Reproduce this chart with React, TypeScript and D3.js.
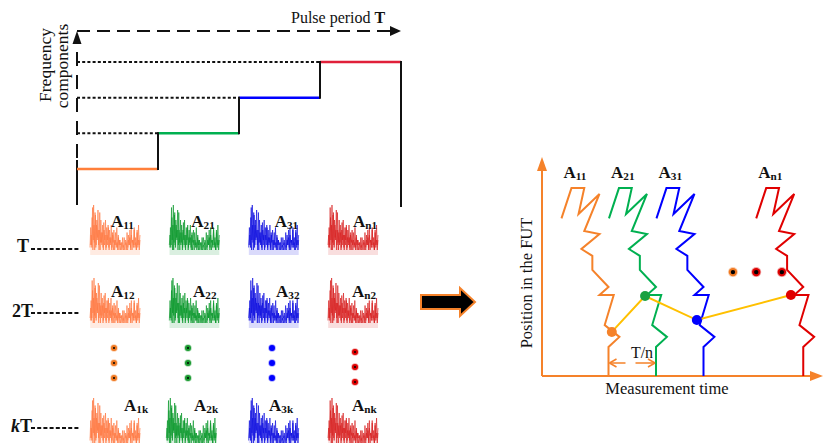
import React from "react";
import * as d3 from "d3";

// ---------- DATA ----------
// Top-left staircase: frequency component per time slot within one pulse period
const stepSlots = [0, 1, 2, 3]; // slot index (start)
const stepLevels = [0, 1, 2, 3]; // frequency level
const stepColors = ["#FF7F3A", "#00B050", "#0000FF", "#E0203A"];

// Spectra grid
const columns = ["1", "2", "3", "n"];
const columnColors = ["#FF7A45", "#0E9A2E", "#1010E0", "#D82424"];
const dotColors = ["#F07820", "#1A9A30", "#0000FF", "#DD0000"];
const rows = ["1", "2", "k"];

const specA = [0.15,0.55,0.2,0.75,0.1,1.0,0.25,0.85,0.15,0.6,0.3,0.9,0.2,0.5,0.1,0.7,0.25,0.45,0.15,0.65,0.2,0.4,0.1,0.55,0.3,0.6,0.15,0.5,0.2,0.35,0.1,0.45,0.25,0.5,0.1,0.3,0.2,0.55,0.15,0.4,0.1,0.3,0.2,0.25,0.1,0.35,0.15,0.2,0.1,0.3,0.25,0.15,0.1,0.4,0.2,0.35,0.15,0.55,0.1,0.3,0.2,0.5,0.15,0.25,0.1,0.45,0.2,0.6,0.1,0.3];
const specB = [0.2,0.4,0.15,0.95,0.3,0.6,0.1,0.8,0.2,0.7,0.35,0.5,0.1,0.85,0.25,0.45,0.2,0.6,0.1,0.5,0.3,0.7,0.15,0.4,0.2,0.55,0.1,0.35,0.25,0.6,0.15,0.4,0.1,0.3,0.2,0.45,0.15,0.25,0.1,0.35,0.2,0.3,0.1,0.2,0.25,0.15,0.1,0.35,0.2,0.25,0.1,0.45,0.15,0.3,0.2,0.5,0.1,0.4,0.25,0.3,0.15,0.55,0.2,0.35,0.1,0.5,0.15,0.3,0.2,0.4];

// Right plot: launch times (in units of T/n) and trace shape [dt, position]
const launchTimes = [1.4, 2.4, 3.4, 5.5];
const traceShape: [number, number][] = [
  [-0.99, 73], [-0.78, 87], [-0.51, 87], [-0.63, 75], [-0.19, 84.3],
  [-0.51, 67.1], [-0.19, 65.7], [-0.57, 58.8], [-0.34, 55.6], [-0.34, 49.1],
  [0, 41.2], [-0.19, 37.5], [0.11, 37.5], [-0.08, 23.6], [0.23, 18.1],
  [0, 13.4], [0, 0],
];
const traceColors = ["#F5822A", "#00B050", "#0000FF", "#E00000"];
const sampleTimes = [1.47, 2.17, 3.26, 5.24];
const samplePositions = [20.4, 37.0, 25.9, 37.5];
const ellipsisTimes = [4.02, 4.51, 5.05];
const ellipsisColors = ["#F07820", "#DD0000", "#DD0000"];
const ellipsisPosition = 48.1;

const SERIF = "'Liberation Serif', 'Times New Roman', serif";

function Label({ x, y, sub, size = 17 }: { x: number; y: number; sub: string; size?: number }) {
  return (
    <text x={x} y={y} fontFamily={SERIF} fontWeight="bold" fontSize={size} fill="#111">
      A
      <tspan fontSize={size * 0.66} dy={1.5}>{sub}</tspan>
    </text>
  );
}

export default function App() {
  const xSlot = d3.scaleLinear().domain([0, 4]).range([77, 401]);
  const yLevel = d3.scaleLinear().domain([0, 3]).range([169, 62]);

  const colX = d3.scalePoint<string>().domain(columns).range([90, 328]);
  const rowTop = d3.scaleOrdinal<string, number>().domain(rows).range([205, 278, 398]);
  const rowH = 50;
  const specW = 50;

  const xR = d3.scaleLinear().domain([0, 5.9]).range([542, 822.25]);
  const yR = d3.scaleLinear().domain([0, 100]).range([376, 160]);
  const line = d3.line<[number, number]>();

  const orange = "#F5822A";

  const spectrumPaths = (ci: number, ri: number) => {
    const left = colX(columns[ci])! + (ri === 2 && ci === 1 ? -3 : 0);
    const top = rowTop(rows[ri]);
    const arrs = (ci + ri) % 2 === 0 ? [specA, specB] : [specB, specA];
    return arrs.map((arr, k) => {
      const sx = d3.scaleLinear().domain([0, arr.length - 1]).range([left + k * 0.4, left + specW]);
      const sy = d3.scaleLinear().domain([0, 1]).range([top + rowH, top]);
      const area = d3.area<number>().x((_, i) => sx(i)).y0(top + rowH).y1((d) => sy(d));
      const ln = d3.line<number>().x((_, i) => sx(i)).y((d) => sy(d));
      return (
        <g key={k}>
          <path d={area(arr)!} fill={columnColors[ci]} opacity={0.08} />
          <path d={ln(arr)!} fill="none" stroke={columnColors[ci]} strokeWidth={0.9} opacity={0.75} />
        </g>
      );
    });
  };

  const row1Offsets = [21, 22, 26, 25];

  return (
    <svg width={823} height={443} style={{ position: "absolute", left: 0, top: 0, background: "#fff" }}>
      {/* ===== Top-left: pulse period ===== */}
      <text x={291} y={23} fontFamily={SERIF} fontSize={16} fill="#111">
        Pulse period <tspan fontWeight="bold">T</tspan>
      </text>
      <line x1={77} y1={31} x2={392} y2={31} stroke="#111" strokeWidth={2} strokeDasharray="13,7" />
      <path d="M390,26 L401,31 L390,36 Z" fill="#111" />
      <path d="M72.5,44 L77,31 L81.5,44 Z" fill="#111" />
      <line x1={77} y1={52} x2={77} y2={160} stroke="#111" strokeWidth={2} strokeDasharray="14,9" />
      <line x1={77} y1={160} x2={77} y2={205} stroke="#111" strokeWidth={2} />
      <text transform="translate(51,65) rotate(-90)" textAnchor="middle" fontFamily={SERIF} fontSize={17.5} fill="#111">Frequency</text>
      <text transform="translate(68,66) rotate(-90)" textAnchor="middle" fontFamily={SERIF} fontSize={17.5} fill="#111">components</text>

      {stepLevels.slice(1).map((lv, i) => (
        <line key={"dg" + i} x1={77} y1={yLevel(lv)} x2={xSlot(stepSlots[i + 1])} y2={yLevel(lv)}
          stroke="#111" strokeWidth={2} strokeDasharray="3,2.2" />
      ))}
      {stepSlots.map((s, i) => (
        <line key={"st" + i} x1={xSlot(s)} y1={yLevel(stepLevels[i])} x2={xSlot(s + 1)} y2={yLevel(stepLevels[i])}
          stroke={stepColors[i]} strokeWidth={2.5} />
      ))}
      {stepSlots.slice(1).map((s, i) => (
        <line key={"rs" + i} x1={xSlot(s)} y1={yLevel(stepLevels[i]) + 1} x2={xSlot(s)} y2={yLevel(stepLevels[i + 1]) - 1}
          stroke="#111" strokeWidth={2} />
      ))}
      <line x1={xSlot(4)} y1={yLevel(3) - 1} x2={xSlot(4)} y2={207} stroke="#111" strokeWidth={2} />

      {/* ===== Spectra grid ===== */}
      {rows.map((r, ri) => (
        <g key={"row" + r}>
          {columns.map((c, ci) => (
            <g key={"sp" + c}>{spectrumPaths(ci, ri)}</g>
          ))}
        </g>
      ))}
      <g>
        {columns.map((c, ci) => (
          <Label key={"l1" + c} x={colX(c)! + row1Offsets[ci]} y={227} sub={c + "1"} />
        ))}
        {columns.map((c, ci) => (
          <Label key={"l2" + c} x={[111, 193, 276, 352][ci]} y={297} sub={c + "2"} />
        ))}
        {columns.map((c, ci) => (
          <Label key={"lk" + c} x={[124, 194, 269, 352][ci]} y={411} sub={c + "k"} />
        ))}
      </g>
      <text x={17} y={252} fontFamily={SERIF} fontWeight="bold" fontSize={18} fill="#111">T</text>
      <text x={12} y={317} fontFamily={SERIF} fontWeight="bold" fontSize={18} fill="#111">2T</text>
      <text x={11} y={432} fontFamily={SERIF} fontWeight="bold" fontSize={18} fill="#111">
        <tspan fontStyle="italic">k</tspan>T
      </text>
      {[249, 313, 428].map((y, i) => (
        <line key={"rd" + i} x1={31} y1={y} x2={80} y2={y} stroke="#111" strokeWidth={2} strokeDasharray="4,2.2" />
      ))}
      {columns.map((c, ci) =>
        [0, 1, 2].map((j) => {
          const cx = [114, 188, 272, 355][ci];
          const cy = (ci === 3 ? 352 : 348) + j * 15;
          return (
            <g key={"vd" + c + j}>
              <circle cx={cx} cy={cy} r={3.8} fill={dotColors[ci]} opacity={0.35} />
              <circle cx={cx} cy={cy} r={3} fill={dotColors[ci]} />
              {ci !== 2 && <circle cx={cx} cy={cy} r={1} fill="#000" />}
            </g>
          );
        })
      )}

      {/* ===== Block arrow ===== */}
      <path d="M421,295 L460,295 L460,288 L475,302 L460,316 L460,309 L421,309 Z"
        fill="#000" stroke={orange} strokeWidth={2} strokeLinejoin="miter" />

      {/* ===== Right plot ===== */}
      <line x1={xR(0)} y1={yR(0)} x2={xR(0)} y2={170} stroke={orange} strokeWidth={2} />
      <path d={`M${xR(0) - 5},171 L${xR(0)},157 L${xR(0) + 5},171 Z`} fill={orange} />
      <line x1={xR(0)} y1={yR(0)} x2={811} y2={yR(0)} stroke={orange} strokeWidth={2} />
      <path d={`M810,${yR(0) - 5} L823,${yR(0)} L810,${yR(0) + 5} Z`} fill={orange} />
      <text transform={`translate(532,283) rotate(-90)`} textAnchor="middle" fontFamily={SERIF} fontSize={16.5} fill="#111">Position in the FUT</text>
      <text x={667} y={394} textAnchor="middle" fontFamily={SERIF} fontSize={16.5} fill="#111">Measurement time</text>

      {launchTimes.map((t0, i) => (
        <path key={"tr" + i}
          d={line(traceShape.map(([dt, p]) => [xR(t0 + dt), yR(p)] as [number, number]))!}
          fill="none" stroke={traceColors[i]} strokeWidth={2} strokeLinejoin="miter" />
      ))}
      {launchTimes.map((t0, i) => (
        <Label key={"rl" + i} x={xR(t0) - 45} y={178} sub={columns[i] + "1"} />
      ))}
      <path d={line(sampleTimes.map((t, i) => [xR(t), yR(samplePositions[i])] as [number, number]))!}
        fill="none" stroke="#FFC000" strokeWidth={2} />
      {sampleTimes.map((t, i) => (
        <circle key={"sd" + i} cx={xR(t)} cy={yR(samplePositions[i])} r={5}
          fill={[orange, "#1AA040", "#0000FF", "#E00000"][i]} />
      ))}
      {ellipsisTimes.map((t, i) => (
        <g key={"he" + i}>
          <circle cx={xR(t)} cy={yR(ellipsisPosition)} r={5} fill={ellipsisColors[i]} opacity={0.35} />
          <circle cx={xR(t)} cy={yR(ellipsisPosition)} r={4.2} fill={ellipsisColors[i]} />
          <circle cx={xR(t)} cy={yR(ellipsisPosition)} r={2.2} fill="#000" />
        </g>
      ))}
      <line x1={xR(launchTimes[0]) + 1} y1={363} x2={xR(launchTimes[1]) - 1} y2={363}
        stroke={orange} strokeWidth={1.5} strokeDasharray="16,10,20" />
      <path d={`M${xR(launchTimes[0]) + 1},363 l7,-4 M${xR(launchTimes[0]) + 1},363 l7,4`} stroke={orange} strokeWidth={1.5} fill="none" />
      <path d={`M${xR(launchTimes[1]) - 1},363 l-7,-4 M${xR(launchTimes[1]) - 1},363 l-7,4`} stroke={orange} strokeWidth={1.5} fill="none" />
      <text x={642} y={358} textAnchor="middle" fontFamily={SERIF} fontSize={16} fill="#111">T/n</text>
    </svg>
  );
}
